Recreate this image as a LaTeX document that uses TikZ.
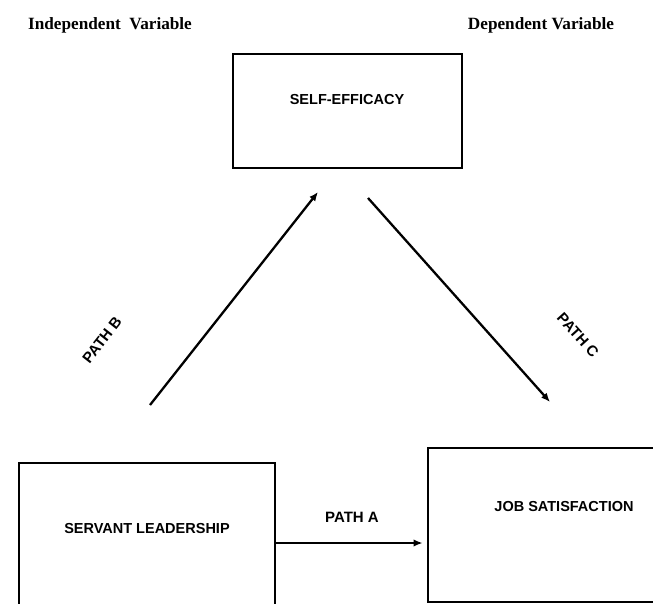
\documentclass[tikz,border=0pt]{standalone}
\usepackage{fontspec}
\setmainfont{Liberation Serif}
\setsansfont{Liberation Sans}
\usetikzlibrary{arrows.meta}
\begin{document}
\begin{tikzpicture}[x=1pt,y=-1pt,
  box/.style={draw,line width=2.8pt,inner sep=0pt},
  boxtext/.style={font=\sffamily\bfseries\fontsize{14.5}{16}\selectfont},
  lab/.style={font=\sffamily\bfseries\fontsize{15}{17}\selectfont},
  head/.style={font=\bfseries\fontsize{17.2}{19}\selectfont},
  arr/.style={line width=2.3pt,-{Latex[length=9pt,width=7.5pt]}}]
\useasboundingbox (0,0) rectangle (653,604);
\clip (0,0) rectangle (653,604);
% headers
\node[head] (iv) at (110,25) {Independent\ \ Variable};
\node[head] (dv) at (541,25) {Dependent Variable};
% boxes
\node[box,minimum width=229pt,minimum height=114pt] (se) at (347.5,111) {};
\node[boxtext] (set) at (347,100) {SELF-EFFICACY};
\node[box,minimum width=256pt,minimum height=160pt] (sl) at (147,543) {};
\node[boxtext] (slt) at (147,529) {SERVANT LEADERSHIP};
\node[box,minimum width=244pt,minimum height=154pt] (js) at (550,525) {};
\node[boxtext] (jst) at (564,507) {JOB SATISFACTION};
% arrow end points
\coordinate (b1) at (150,405);
\coordinate (b2) at (318,192);
\coordinate (c1) at (368,198);
\coordinate (c2) at (550,402);
\coordinate (pa) at (0,543);
% connectors
\draw[arr] (b1) -- (b2);
\draw[arr] (c1) -- (c2);
\draw[arr,shorten >=4pt] (sl.east |- pa) -- (js.west |- pa);
% labels
\node[lab] (la) at (352,517) {PATH A};
\node[lab,rotate=52] (lb) at (102,340) {PATH B};
\node[lab,rotate=-48] (lc) at (578,335) {PATH C};
\end{tikzpicture}
\end{document}
